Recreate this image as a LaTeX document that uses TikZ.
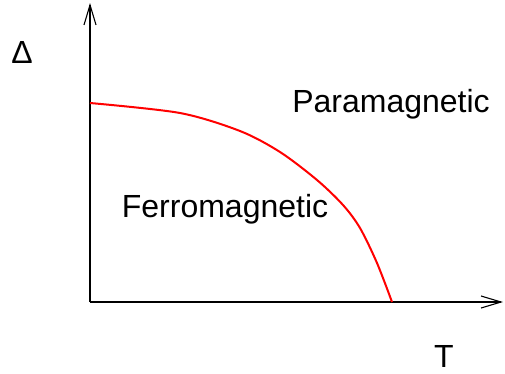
\documentclass[tikz,border=0pt]{standalone}
\usepackage{fontspec}
\setmainfont{Liberation Sans}
\usepackage{xcolor}
\definecolor{cAxis}{HTML}{000000}
\definecolor{cLine}{HTML}{FF0000}
\usetikzlibrary{arrows.meta}
\tikzset{
  axis-line/.style={draw=cAxis,line width=1.1pt,
    -{Straight Barb[length=20pt,width=12pt,line width=1.1pt]}},
  phase-line/.style={draw=cLine,line width=2pt},
  phase-label/.style={inner sep=0pt,anchor=base,
    font=\fontsize{32}{36}\selectfont},
}

\begin{document}
\begin{tikzpicture}[x=1pt,y=-1pt]
  \useasboundingbox (0,0) rectangle (505,373);
  \coordinate (orig) at (90,302);
  \coordinate (ytop) at (90,3);
  \coordinate (xend) at (503,302);

  \draw[axis-line] (orig) -- (ytop);
  \draw[axis-line] (orig) -- (xend);

  % phase boundary
  \draw[phase-line] plot[smooth,tension=0.5] coordinates
    {(90,103) (180,113) (240,131) (280,152) (317,180) (343,205)
     (360,228) (377,263) (392,302)};

  \node[phase-label] (delta) at (22,63) {Δ};
  \node[phase-label] (para) at (391,112) {Paramagnetic};
  \node[phase-label] (ferro) at (225,217) {Ferromagnetic};
  \node[phase-label] (temp) at (444,367) {T};
\end{tikzpicture}
\end{document}
